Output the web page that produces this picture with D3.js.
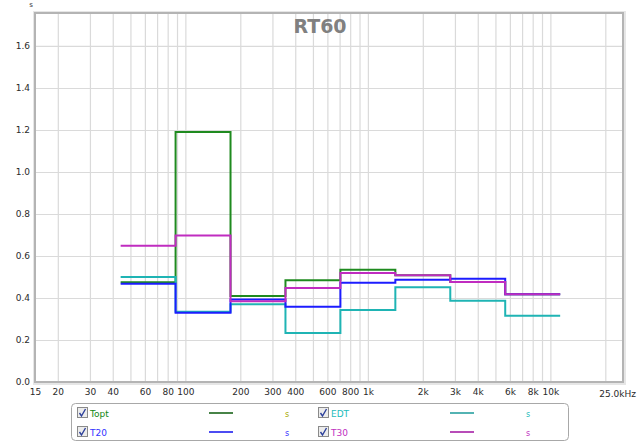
<!DOCTYPE html>
<html><head><meta charset="utf-8">
<script src="https://cdn.jsdelivr.net/npm/d3@7"></script>
<style>body{margin:0;background:#fff}svg{display:block}text{font-family:"DejaVu Sans",sans-serif}</style>
</head><body><svg id="c" width="640" height="442"></svg>
<script>
const bands   = ["63","125","250","500","1k","2k","4k","8k"];
const centers = [62.5,125,250,500,1000,2000,4000,8000];
const Topt = [0.475,1.19,0.41,0.485,0.535,0.508,0.476,0.418];
const EDT  = [0.50,0.335,0.37,0.233,0.343,0.451,0.387,0.316];
const T20  = [0.468,0.33,0.393,0.358,0.473,0.487,0.492,0.418];
const T30  = [0.649,0.698,0.385,0.447,0.519,0.508,0.476,0.418];
const xTickVals = [15,20,30,40,60,80,100,200,300,400,600,800,1000,2000,3000,4000,6000,8000,10000];
const xTickLabels = ["15","20","30","40","60","80","100","200","300","400","600","800","1k","2k","3k","4k","6k","8k","10k"];
const xGridVals = [20,30,40,50,60,70,80,90,100,200,300,400,500,600,700,800,900,1000,2000,3000,4000,5000,6000,7000,8000,9000,10000,20000];
const yTickVals = [0,0.2,0.4,0.6,0.8,1.0,1.2,1.4,1.6];

const series = [
  {name:"Topt", data:Topt, color:"#1f8a1f", legLine:"#0a5a0a", text:"#118811", unit:"#a8a800"},
  {name:"EDT",  data:EDT,  color:"#1fb4b4", legLine:"#1a9a9a", text:"#22bbbb", unit:"#22bbbb"},
  {name:"T20",  data:T20,  color:"#1c1cff", legLine:"#1010ee", text:"#3333ff", unit:"#3333ff"},
  {name:"T30",  data:T30,  color:"#c02cc0", legLine:"#a010a0", text:"#c030c0", unit:"#c030c0"}
];

const L=35,R=623,T=13,B=382;
const svg=d3.select("#c");
const x=d3.scaleLog().domain([15,25000]).range([L,R]);
const y=d3.scaleLinear().domain([0,1.757]).range([B,T]);

// grid
const g=svg.append("g");
g.append("g").attr("transform",`translate(0,${B})`)
 .call(d3.axisBottom(x).tickValues(xGridVals).tickSize(-(B-T)).tickFormat(""))
 .call(a=>{a.select(".domain").remove();a.selectAll("line").attr("stroke","#dadada").attr("stroke-width",1.2);});
g.append("g").attr("transform",`translate(${L},0)`)
 .call(d3.axisLeft(y).tickValues(yTickVals.slice(1)).tickSize(-(R-L)).tickFormat(""))
 .call(a=>{a.select(".domain").remove();a.selectAll("line").attr("stroke","#dadada").attr("stroke-width",1.2);});

// border
svg.append("rect").attr("x",L-1).attr("y",T-1).attr("width",R-L+3).attr("height",B-T+3)
  .attr("fill","none").attr("stroke","#e6e6e6").attr("stroke-width",2);
svg.append("rect").attr("x",L).attr("y",T).attr("width",R-L).attr("height",B-T)
  .attr("fill","none").attr("stroke","#b4b4b4").attr("stroke-width",2);

// axes labels
const xa=svg.append("g").attr("transform",`translate(0,${B})`)
 .call(d3.axisBottom(x).tickValues(xTickVals).tickSize(0).tickPadding(7).tickFormat((d,i)=>xTickLabels[i]));
xa.select(".domain").remove();
xa.selectAll("text").attr("font-size",9).attr("fill","#2a2a2a").attr("font-family","DejaVu Sans");
svg.append("text").attr("x",636).attr("y",B+15).attr("text-anchor","end").attr("font-size",9).attr("fill","#2a2a2a").text("25.0kHz");

const ya=svg.append("g").attr("transform",`translate(${L-4},0)`)
 .call(d3.axisLeft(y).tickValues(yTickVals).tickSize(0).tickPadding(1).tickFormat(d3.format(".1f")));
ya.select(".domain").remove();
ya.selectAll("text").attr("font-size",9).attr("fill","#2a2a2a").attr("font-family","DejaVu Sans");
svg.append("text").attr("x",31).attr("y",7).attr("text-anchor","middle").attr("font-size",7).attr("fill","#333").text("s");

// title
svg.append("text").attr("x",320).attr("y",33).attr("text-anchor","middle")
  .attr("font-family","'Open Sans',sans-serif").attr("font-weight","bold").attr("font-size",19).attr("fill","#808080").text("RT60");

// step lines
const line=d3.line().x(d=>x(d[0])).y(d=>y(d[1]));
series.forEach(s=>{
  const pts=[];
  s.data.forEach((v,i)=>{pts.push([centers[i]/Math.SQRT2,v]);pts.push([centers[i]*Math.SQRT2,v]);});
  svg.append("path").attr("d",line(pts)).attr("fill","none").attr("stroke",s.color).attr("stroke-width",2);
});

// legend
const lg=svg.append("g");
lg.append("rect").attr("x",71.5).attr("y",403.5).attr("width",497).attr("height",37).attr("rx",4)
  .attr("fill","#fff").attr("stroke","#a8a8a8");
const legPos=[{s:"Topt",c:0,r:0},{s:"EDT",c:1,r:0},{s:"T20",c:0,r:1},{s:"T30",c:1,r:1}];
legPos.forEach(p=>{
  const s=series.find(q=>q.name===p.s);
  const x0=p.c===0?77:318, yc=p.r===0?413:432;
  lg.append("rect").attr("x",x0+0.5).attr("y",yc-5.5).attr("width",10).attr("height",10)
    .attr("fill","#ececec").attr("stroke","#8a8a8a");
  lg.append("path").attr("d",`M${x0+2.5},${yc}L${x0+4.5},${yc+3}L${x0+8.5},${yc-4}`)
    .attr("fill","none").attr("stroke","#2b3f9a").attr("stroke-width",1.4);
  lg.append("text").attr("x",x0+13).attr("y",yc+3.5).attr("font-size",9).attr("fill",s.text).text(s.name);
  lg.append("line").attr("x1",x0+132).attr("x2",x0+156).attr("y1",yc).attr("y2",yc)
    .attr("stroke",s.legLine).attr("stroke-width",1.5);
  lg.append("text").attr("x",x0+208).attr("y",yc+3.5).attr("font-size",8).attr("fill",s.unit).text("s");
});
</script></body></html>
